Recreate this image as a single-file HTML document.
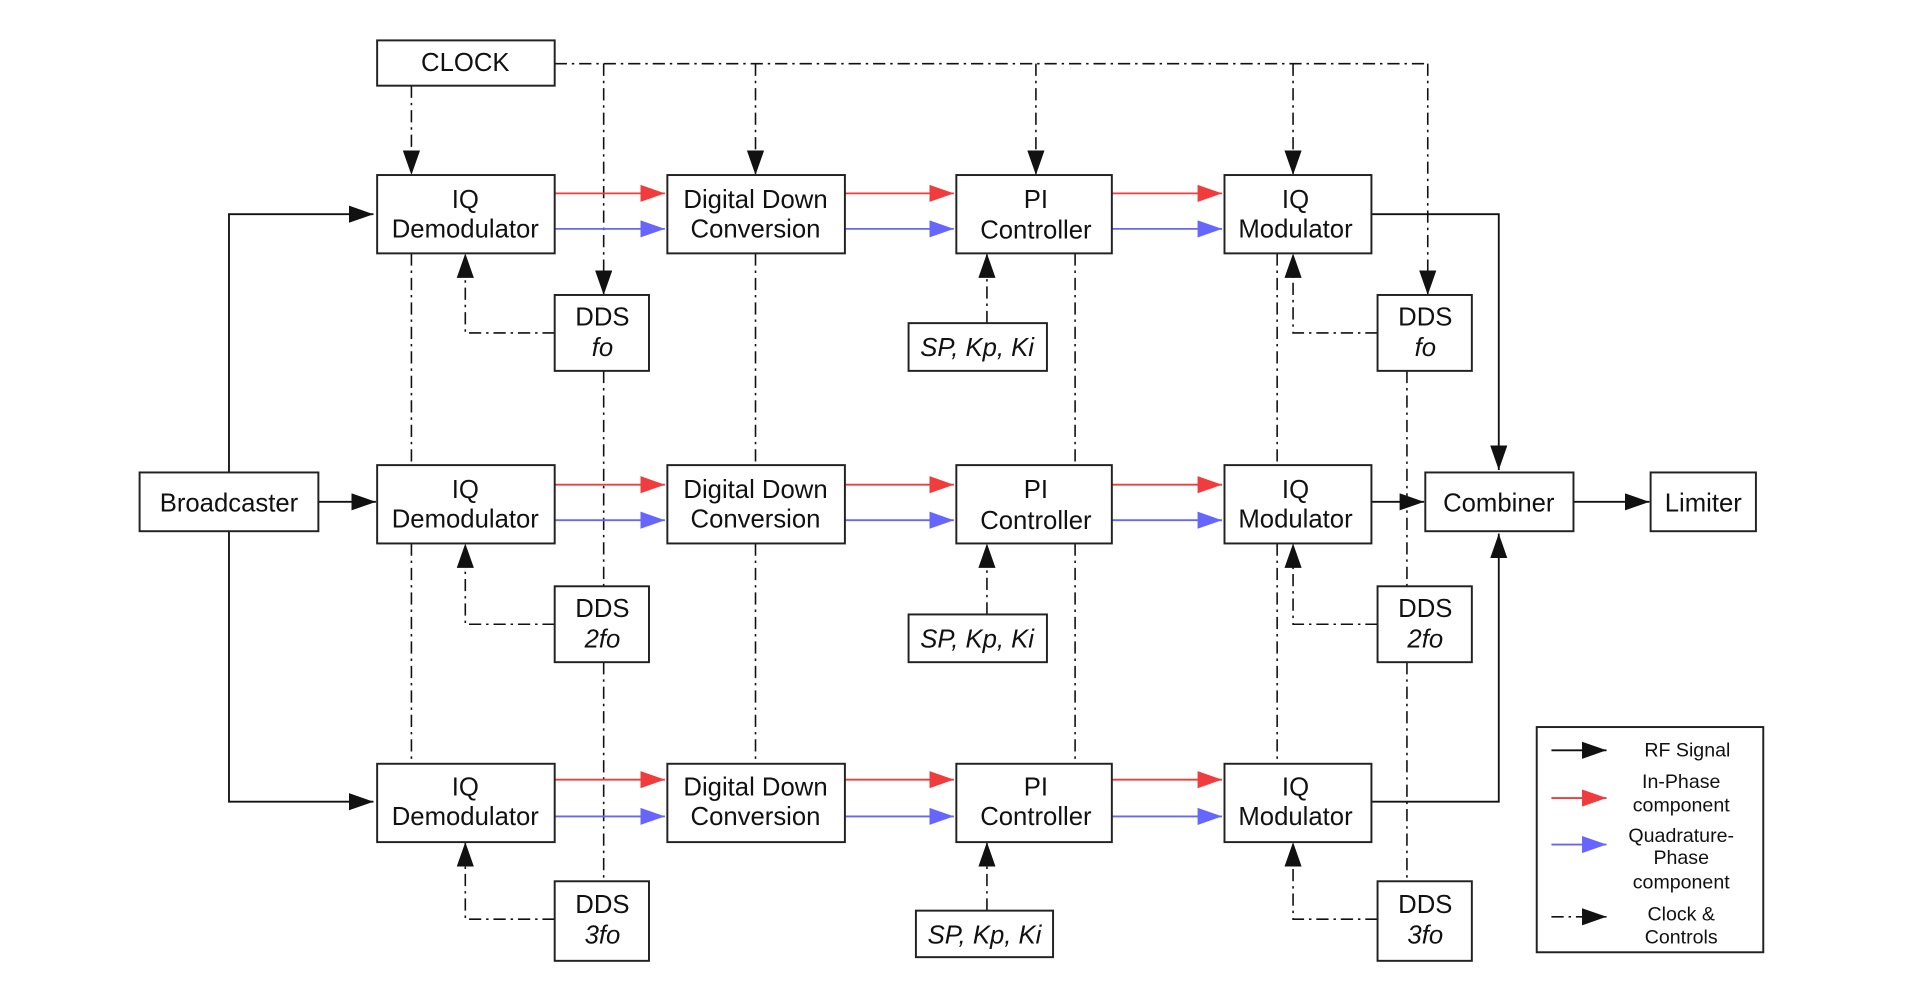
<!DOCTYPE html>
<html><head><meta charset="utf-8"><style>
html,body{margin:0;padding:0;background:#fff;}
svg{display:block;}
text{font-family:"Liberation Sans",Arial,sans-serif;font-size:21px;fill:#111;text-anchor:middle;}
.i{font-style:italic;}
.b{fill:#fff;stroke:#222;stroke-width:1.6;}
.k{stroke:#111;stroke-width:1.5;fill:none;}
.r{stroke:#f03c3c;stroke-width:1.5;fill:none;}
.u{stroke:#6666ff;stroke-width:1.5;fill:none;}
.d{stroke:#111;stroke-width:1.3;fill:none;stroke-dasharray:10 4 2 4;}
.lg{font-size:16px;}
</style></head><body>
<svg width="1920" height="1000" viewBox="0 0 1568 817" preserveAspectRatio="none" xmlns="http://www.w3.org/2000/svg">
<defs>
<marker id="ak" markerUnits="userSpaceOnUse" markerWidth="22" markerHeight="14" refX="20" refY="7" orient="auto"><path d="M0,0 L20,7 L0,14 z" fill="#111"/></marker>
<marker id="ar" markerUnits="userSpaceOnUse" markerWidth="22" markerHeight="14" refX="20" refY="7" orient="auto"><path d="M0,0 L20,7 L0,14 z" fill="#f03c3c"/></marker>
<marker id="au" markerUnits="userSpaceOnUse" markerWidth="22" markerHeight="14" refX="20" refY="7" orient="auto"><path d="M0,0 L20,7 L0,14 z" fill="#6666ff"/></marker>
</defs>

<!-- clock lines -->
<path class="d" d="M453,52 H1166"/>
<path class="d" d="M336,70 V143" marker-end="url(#ak)"/>
<path class="d" d="M493,52 V241" marker-end="url(#ak)"/>
<path class="d" d="M617,52 V143" marker-end="url(#ak)"/>
<path class="d" d="M846,52 V143" marker-end="url(#ak)"/>
<path class="d" d="M1056,52 V143" marker-end="url(#ak)"/>
<path class="d" d="M1166,52 V241" marker-end="url(#ak)"/>

<!-- vertical chains -->
<path class="d" d="M336,207 V380 M336,444 V624"/>
<path class="d" d="M493,303 V479 M493,541 V720"/>
<path class="d" d="M617,207 V380 M617,444 V624"/>
<path class="d" d="M878,207 V380 M878,444 V624"/>
<path class="d" d="M1043,207 V380 M1043,444 V624"/>
<path class="d" d="M1149,303 V479 M1149,541 V720"/>

<!-- DDS feedback & SP -->
<g class="d">
<path d="M453,272 H380 V207" marker-end="url(#ak)"/>
<path d="M453,510 H380 V444" marker-end="url(#ak)"/>
<path d="M453,751 H380 V688" marker-end="url(#ak)"/>
<path d="M1125,272 H1056 V207" marker-end="url(#ak)"/>
<path d="M1125,510 H1056 V444" marker-end="url(#ak)"/>
<path d="M1125,751 H1056 V688" marker-end="url(#ak)"/>
<path d="M806,264 V207" marker-end="url(#ak)"/>
<path d="M806,502 V444" marker-end="url(#ak)"/>
<path d="M806,744 V688" marker-end="url(#ak)"/>
</g>

<!-- RF -->
<path class="k" d="M187,386 V175 H305" marker-end="url(#ak)"/>
<path class="k" d="M187,434 V655 H305" marker-end="url(#ak)"/>
<path class="k" d="M260,410 H307" marker-end="url(#ak)"/>
<path class="k" d="M1120,175 H1224 V384" marker-end="url(#ak)"/>
<path class="k" d="M1120,410 H1163" marker-end="url(#ak)"/>
<path class="k" d="M1120,655 H1224 V436" marker-end="url(#ak)"/>
<path class="k" d="M1285,410 H1347" marker-end="url(#ak)"/>

<!-- IQ arrows -->
<g>
<path class="r" d="M453,158 H543" marker-end="url(#ar)"/><path class="u" d="M453,187 H543" marker-end="url(#au)"/>
<path class="r" d="M690,158 H779" marker-end="url(#ar)"/><path class="u" d="M690,187 H779" marker-end="url(#au)"/>
<path class="r" d="M908,158 H998" marker-end="url(#ar)"/><path class="u" d="M908,187 H998" marker-end="url(#au)"/>
<path class="r" d="M453,396 H543" marker-end="url(#ar)"/><path class="u" d="M453,425 H543" marker-end="url(#au)"/>
<path class="r" d="M690,396 H779" marker-end="url(#ar)"/><path class="u" d="M690,425 H779" marker-end="url(#au)"/>
<path class="r" d="M908,396 H998" marker-end="url(#ar)"/><path class="u" d="M908,425 H998" marker-end="url(#au)"/>
<path class="r" d="M453,637 H543" marker-end="url(#ar)"/><path class="u" d="M453,667 H543" marker-end="url(#au)"/>
<path class="r" d="M690,637 H779" marker-end="url(#ar)"/><path class="u" d="M690,667 H779" marker-end="url(#au)"/>
<path class="r" d="M908,637 H998" marker-end="url(#ar)"/><path class="u" d="M908,667 H998" marker-end="url(#au)"/>
</g>

<!-- boxes -->
<rect class="b" x="308" y="33" width="145" height="37"/><text x="380" y="58">CLOCK</text>
<rect class="b" x="114" y="386" width="146" height="48"/><text x="187" y="418">Broadcaster</text>
<rect class="b" x="1164" y="386" width="121" height="48"/><text x="1224" y="418">Combiner</text>
<rect class="b" x="1348" y="386" width="86" height="48"/><text x="1391" y="418">Limiter</text>

<g>
<rect class="b" x="308" y="143" width="145" height="64"/><text x="380" y="170">IQ</text><text x="380" y="194">Demodulator</text>
<rect class="b" x="545" y="143" width="145" height="64"/><text x="617" y="170">Digital Down</text><text x="617" y="194">Conversion</text>
<rect class="b" x="781" y="143" width="127" height="64"/><text x="846" y="170">PI</text><text x="846" y="195">Controller</text>
<rect class="b" x="1000" y="143" width="120" height="64"/><text x="1058" y="170">IQ</text><text x="1058" y="194">Modulator</text>

<rect class="b" x="308" y="380" width="145" height="64"/><text x="380" y="407">IQ</text><text x="380" y="431">Demodulator</text>
<rect class="b" x="545" y="380" width="145" height="64"/><text x="617" y="407">Digital Down</text><text x="617" y="431">Conversion</text>
<rect class="b" x="781" y="380" width="127" height="64"/><text x="846" y="407">PI</text><text x="846" y="432">Controller</text>
<rect class="b" x="1000" y="380" width="120" height="64"/><text x="1058" y="407">IQ</text><text x="1058" y="431">Modulator</text>

<rect class="b" x="308" y="624" width="145" height="64"/><text x="380" y="650">IQ</text><text x="380" y="674">Demodulator</text>
<rect class="b" x="545" y="624" width="145" height="64"/><text x="617" y="650">Digital Down</text><text x="617" y="674">Conversion</text>
<rect class="b" x="781" y="624" width="127" height="64"/><text x="846" y="650">PI</text><text x="846" y="674">Controller</text>
<rect class="b" x="1000" y="624" width="120" height="64"/><text x="1058" y="650">IQ</text><text x="1058" y="674">Modulator</text>
</g>

<g>
<rect class="b" x="453" y="241" width="77" height="62"/><text x="492" y="266">DDS</text><text class="i" x="492" y="291">fo</text>
<rect class="b" x="453" y="479" width="77" height="62"/><text x="492" y="504">DDS</text><text class="i" x="492" y="529">2fo</text>
<rect class="b" x="453" y="720" width="77" height="65"/><text x="492" y="746">DDS</text><text class="i" x="492" y="771">3fo</text>
<rect class="b" x="1125" y="241" width="77" height="62"/><text x="1164" y="266">DDS</text><text class="i" x="1164" y="291">fo</text>
<rect class="b" x="1125" y="479" width="77" height="62"/><text x="1164" y="504">DDS</text><text class="i" x="1164" y="529">2fo</text>
<rect class="b" x="1125" y="720" width="77" height="65"/><text x="1164" y="746">DDS</text><text class="i" x="1164" y="771">3fo</text>
<rect class="b" x="742" y="264" width="113" height="39"/><text class="i" x="798" y="291">SP, Kp, Ki</text>
<rect class="b" x="742" y="502" width="113" height="39"/><text class="i" x="798" y="529">SP, Kp, Ki</text>
<rect class="b" x="748" y="744" width="112" height="38"/><text class="i" x="804" y="771">SP, Kp, Ki</text>
</g>

<!-- legend -->
<rect class="b" x="1255" y="594" width="185" height="184"/>
<path class="k" d="M1267,613 H1312" marker-end="url(#ak)"/>
<text class="lg" x="1378" y="618">RF Signal</text>
<path class="r" d="M1267,652 H1312" marker-end="url(#ar)"/>
<text class="lg" x="1373" y="644">In-Phase</text><text class="lg" x="1373" y="663">component</text>
<path class="u" d="M1267,690 H1312" marker-end="url(#au)"/>
<text class="lg" x="1373" y="688">Quadrature-</text><text class="lg" x="1373" y="706">Phase</text><text class="lg" x="1373" y="726">component</text>
<path class="d" d="M1267,749 H1312" stroke-dasharray="2 5 2 5 30" marker-end="url(#ak)"/>
<text class="lg" x="1373" y="752">Clock &amp;</text><text class="lg" x="1373" y="771">Controls</text>
</svg>
</body></html>
